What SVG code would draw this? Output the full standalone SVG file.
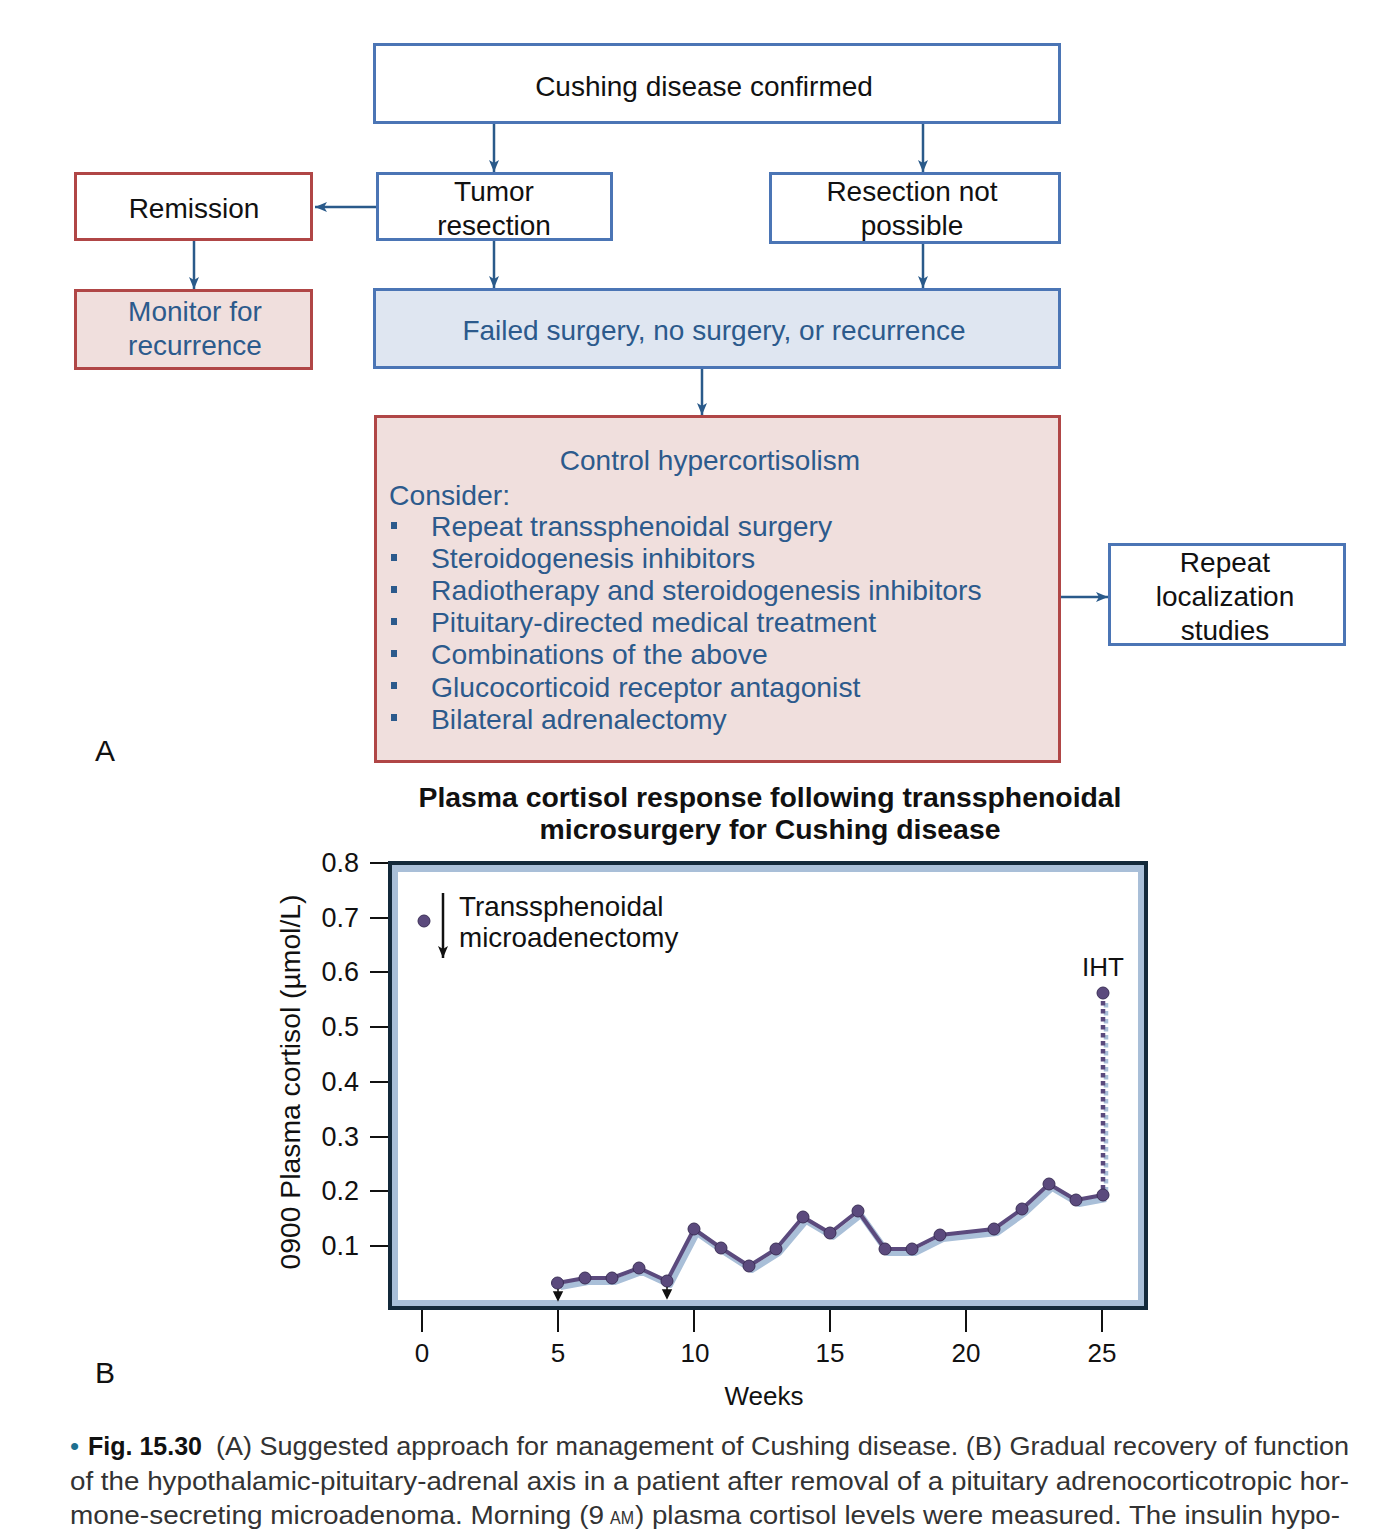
<svg xmlns="http://www.w3.org/2000/svg" width="1394" height="1534" viewBox="0 0 1394 1534">
<style>
text{font-family:"Liberation Sans",Arial,Helvetica,sans-serif}
.bb{fill:#fff;stroke:#4b75b5;stroke-width:3}
.rb{fill:#fff;stroke:#b04646;stroke-width:3}
.pk{fill:#f0dfdd;stroke:#b04646;stroke-width:3}
.lb{fill:#dfe6f1;stroke:#4b75b5;stroke-width:3}
.t{font-size:28px;fill:#111;text-anchor:middle}
.tb{font-size:28px;fill:#2c5a8c;text-anchor:middle}
.li{font-size:28.3px;fill:#2c5a8c}
.bul{fill:#2c5a8c}
.con{fill:none;stroke:#2a5a8a;stroke-width:2.5}
.tk{stroke:#111;stroke-width:2}
.yl{font-size:27px;fill:#111;text-anchor:end}
.xl{font-size:26px;fill:#111;text-anchor:middle}
.cap{font-size:26px;fill:#333}
.pt{fill:#5b4a7d;stroke:#3b2f57;stroke-width:1}
</style>
<defs>
<marker id="ah" markerUnits="userSpaceOnUse" markerWidth="13" markerHeight="12" refX="12" refY="6" orient="auto">
<path d="M0,1 L12,6 L0,11 L3,6 z" fill="#2a5a8a"/>
</marker>
<marker id="bk" markerUnits="userSpaceOnUse" markerWidth="13" markerHeight="12" refX="12" refY="6" orient="auto">
<path d="M0,1 L12,6 L0,11 L3,6 z" fill="#111"/>
</marker>
</defs>
<rect width="1394" height="1534" fill="#fff"/>

<g id="connectors">
<path class="con" d="M494,123 V172" marker-end="url(#ah)"/>
<path class="con" d="M923,123 V172" marker-end="url(#ah)"/>
<path class="con" d="M376,207 H315" marker-end="url(#ah)"/>
<path class="con" d="M194,241 V289" marker-end="url(#ah)"/>
<path class="con" d="M494,240 V288" marker-end="url(#ah)"/>
<path class="con" d="M923,243 V288" marker-end="url(#ah)"/>
<path class="con" d="M702,368 V415" marker-end="url(#ah)"/>
<path class="con" d="M1060,597 H1108" marker-end="url(#ah)"/>
</g>

<g id="cushing">
<rect class="bb" x="374.5" y="44.5" width="685" height="78"/>
<text class="t" x="704" y="96">Cushing disease confirmed</text>
</g>
<g id="tumor">
<rect class="bb" x="377.5" y="173.5" width="234" height="66"/>
<text class="t" x="494" y="201">Tumor</text>
<text class="t" x="494" y="235">resection</text>
</g>
<g id="notpossible">
<rect class="bb" x="770.5" y="173.5" width="289" height="69"/>
<text class="t" x="912" y="201">Resection not</text>
<text class="t" x="912" y="235">possible</text>
</g>
<g id="remission">
<rect class="rb" x="75.5" y="173.5" width="236" height="66"/>
<text class="t" x="194" y="218">Remission</text>
</g>
<g id="monitor">
<rect class="pk" x="75.5" y="290.5" width="236" height="78"/>
<text class="tb" x="195" y="321">Monitor for</text>
<text class="tb" x="195" y="355">recurrence</text>
</g>
<g id="failed">
<rect class="lb" x="374.5" y="289.5" width="685" height="78"/>
<text class="tb" x="714" y="340">Failed surgery, no surgery, or recurrence</text>
</g>
<g id="control">
<rect class="pk" x="375.5" y="416.5" width="684" height="345"/>
<text class="tb" x="710" y="470">Control hypercortisolism</text>
<text class="li" x="389" y="505">Consider:</text>
<rect class="bul" x="391" y="522" width="6" height="7"/>
<text class="li" x="431" y="536">Repeat transsphenoidal surgery</text>
<rect class="bul" x="391" y="554" width="6" height="7"/>
<text class="li" x="431" y="568">Steroidogenesis inhibitors</text>
<rect class="bul" x="391" y="586" width="6" height="7"/>
<text class="li" x="431" y="600">Radiotherapy and steroidogenesis inhibitors</text>
<rect class="bul" x="391" y="618" width="6" height="7"/>
<text class="li" x="431" y="632">Pituitary-directed medical treatment</text>
<rect class="bul" x="391" y="650" width="6" height="7"/>
<text class="li" x="431" y="664">Combinations of the above</text>
<rect class="bul" x="391" y="682" width="6" height="7"/>
<text class="li" x="431" y="697">Glucocorticoid receptor antagonist</text>
<rect class="bul" x="391" y="714" width="6" height="7"/>
<text class="li" x="431" y="729">Bilateral adrenalectomy</text>
</g>
<g id="repeat">
<rect class="bb" x="1109.5" y="544.5" width="235" height="100"/>
<text class="t" x="1225" y="572">Repeat</text>
<text class="t" x="1225" y="606">localization</text>
<text class="t" x="1225" y="640">studies</text>
</g>
<text x="95" y="761" style="font-size:30px;fill:#111">A</text>

<g id="chart">
<text x="770" y="807" text-anchor="middle" style="font-size:27px;font-weight:bold;fill:#111" textLength="703" lengthAdjust="spacingAndGlyphs">Plasma cortisol response following transsphenoidal</text>
<text x="770" y="839" text-anchor="middle" style="font-size:27px;font-weight:bold;fill:#111" textLength="461" lengthAdjust="spacingAndGlyphs">microsurgery for Cushing disease</text>

<rect x="390" y="863" width="756" height="445" fill="#a9bfd8" stroke="#13293a" stroke-width="4"/>
<rect x="398" y="872" width="740" height="428" fill="#fff"/>

<g>
<line class="tk" x1="370" y1="863" x2="388" y2="863"/>
<line class="tk" x1="370" y1="918" x2="388" y2="918"/>
<line class="tk" x1="370" y1="972" x2="388" y2="972"/>
<line class="tk" x1="370" y1="1027" x2="388" y2="1027"/>
<line class="tk" x1="370" y1="1082" x2="388" y2="1082"/>
<line class="tk" x1="370" y1="1137" x2="388" y2="1137"/>
<line class="tk" x1="370" y1="1191" x2="388" y2="1191"/>
<line class="tk" x1="370" y1="1246" x2="388" y2="1246"/>
<text class="yl" x="359" y="872">0.8</text>
<text class="yl" x="359" y="927">0.7</text>
<text class="yl" x="359" y="981">0.6</text>
<text class="yl" x="359" y="1036">0.5</text>
<text class="yl" x="359" y="1091">0.4</text>
<text class="yl" x="359" y="1146">0.3</text>
<text class="yl" x="359" y="1200">0.2</text>
<text class="yl" x="359" y="1255">0.1</text>
</g>
<text transform="translate(300,1082) rotate(-90)" text-anchor="middle" style="font-size:28.3px;fill:#111">0900 Plasma cortisol (µmol/L)</text>

<g>
<line class="tk" x1="422" y1="1310" x2="422" y2="1332"/>
<line class="tk" x1="558" y1="1310" x2="558" y2="1332"/>
<line class="tk" x1="694" y1="1310" x2="694" y2="1332"/>
<line class="tk" x1="830" y1="1310" x2="830" y2="1332"/>
<line class="tk" x1="966" y1="1310" x2="966" y2="1332"/>
<line class="tk" x1="1102" y1="1310" x2="1102" y2="1332"/>
<text class="xl" x="422" y="1362">0</text>
<text class="xl" x="558" y="1362">5</text>
<text class="xl" x="695" y="1362">10</text>
<text class="xl" x="830" y="1362">15</text>
<text class="xl" x="966" y="1362">20</text>
<text class="xl" x="1102" y="1362">25</text>
<text class="xl" x="764" y="1405">Weeks</text>
</g>

<!-- legend -->
<circle class="pt" cx="424" cy="921" r="6"/>
<line x1="443" y1="893" x2="443" y2="958" stroke="#111" stroke-width="2.5" marker-end="url(#bk)"/>
<text x="459" y="916" style="font-size:27.8px;fill:#111">Transsphenoidal</text>
<text x="459" y="947" style="font-size:27.8px;fill:#111">microadenectomy</text>

<!-- IHT -->
<text x="1103" y="976" text-anchor="middle" style="font-size:26px;fill:#111">IHT</text>
<line x1="1106" y1="1003" x2="1106" y2="1193" stroke="#a9bfd8" stroke-width="4.5" stroke-dasharray="4.5 3.5"/>
<line x1="1103" y1="1001" x2="1103" y2="1190" stroke="#5b4a7d" stroke-width="4.5" stroke-dasharray="4.5 3.5"/>

<!-- shadow -->
<polyline fill="none" stroke="#a9bfd8" stroke-width="6" stroke-linejoin="round" transform="translate(3,4)" points="557.5,1283 585,1278 612,1278 639,1268 667,1281 694,1229 721,1248 749,1266 776,1249 803,1217 830,1233 858,1211 885,1249 912,1249 940,1235 994,1229 1022,1209 1049,1184 1076,1200 1103,1195"/>
<polyline fill="none" stroke="#5b4a7d" stroke-width="4" stroke-linejoin="round" points="557.5,1283 585,1278 612,1278 639,1268 667,1281 694,1229 721,1248 749,1266 776,1249 803,1217 830,1233 858,1211 885,1249 912,1249 940,1235 994,1229 1022,1209 1049,1184 1076,1200 1103,1195"/>
<g>
<circle class="pt" cx="557.5" cy="1283" r="6"/>
<circle class="pt" cx="585" cy="1278" r="6"/>
<circle class="pt" cx="612" cy="1278" r="6"/>
<circle class="pt" cx="639" cy="1268" r="6"/>
<circle class="pt" cx="667" cy="1281" r="6"/>
<circle class="pt" cx="694" cy="1229" r="6"/>
<circle class="pt" cx="721" cy="1248" r="6"/>
<circle class="pt" cx="749" cy="1266" r="6"/>
<circle class="pt" cx="776" cy="1249" r="6"/>
<circle class="pt" cx="803" cy="1217" r="6"/>
<circle class="pt" cx="830" cy="1233" r="6"/>
<circle class="pt" cx="858" cy="1211" r="6"/>
<circle class="pt" cx="885" cy="1249" r="6"/>
<circle class="pt" cx="912" cy="1249" r="6"/>
<circle class="pt" cx="940" cy="1235" r="6"/>
<circle class="pt" cx="994" cy="1229" r="6"/>
<circle class="pt" cx="1022" cy="1209" r="6"/>
<circle class="pt" cx="1049" cy="1184" r="6"/>
<circle class="pt" cx="1076" cy="1200" r="6"/>
<circle class="pt" cx="1103" cy="1195" r="6"/>
<circle class="pt" cx="1103" cy="993" r="6"/>
</g>
<!-- surgery markers -->
<path d="M558,1289 V1294 M554,1292 L558,1300 L562,1292 z" stroke="#111" stroke-width="1.5" fill="#111"/>
<path d="M667,1287 V1292 M663,1290 L667,1298 L671,1290 z" stroke="#111" stroke-width="1.5" fill="#111"/>
</g>
<text x="95" y="1383" style="font-size:30px;fill:#111">B</text>

<g id="caption">
<text x="70" y="1455" style="font-size:26px;fill:#1e6f8f">•</text>
<text x="88" y="1455" style="font-size:25px;font-weight:bold;fill:#111" textLength="114" lengthAdjust="spacingAndGlyphs">Fig. 15.30</text>
<text class="cap" x="216" y="1455" textLength="1133" lengthAdjust="spacingAndGlyphs">(A) Suggested approach for management of Cushing disease. (B) Gradual recovery of function</text>
<text class="cap" x="70" y="1490" textLength="1279" lengthAdjust="spacingAndGlyphs">of the hypothalamic-pituitary-adrenal axis in a patient after removal of a pituitary adrenocorticotropic hor-</text>
<text class="cap" x="70" y="1524" textLength="534" lengthAdjust="spacingAndGlyphs">mone-secreting microadenoma. Morning (9</text>
<text x="610" y="1524" style="font-size:18px;fill:#333" textLength="24" lengthAdjust="spacingAndGlyphs">AM</text>
<text class="cap" x="635" y="1524" textLength="705" lengthAdjust="spacingAndGlyphs">) plasma cortisol levels were measured. The insulin hypo-</text>
</g>
</svg>
